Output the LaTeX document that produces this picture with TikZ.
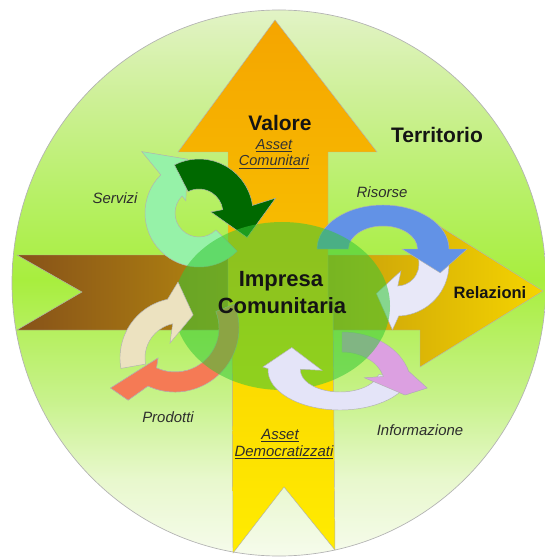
\documentclass[tikz,border=0pt]{standalone}
\usepackage{fontspec}
\setmainfont{Liberation Sans}
\definecolor{bgA}{RGB}{226,243,198}
\definecolor{bgB}{RGB}{205,240,150}
\definecolor{bgC}{RGB}{182,240,100}
\definecolor{bgD}{RGB}{168,238,62}
\definecolor{bgE}{RGB}{200,242,140}
\definecolor{bgF}{RGB}{232,248,205}
\definecolor{bgG}{RGB}{246,251,236}
\definecolor{hL}{RGB}{135,82,25}
\definecolor{hR}{RGB}{245,212,0}
\definecolor{vT}{RGB}{245,165,0}
\definecolor{vM}{RGB}{248,196,0}
\definecolor{yT}{RGB}{250,212,0}
\definecolor{yB}{RGB}{255,236,0}
\definecolor{ellG}{RGB}{55,200,55}
\definecolor{lgC}{RGB}{150,242,168}
\definecolor{dgC}{RGB}{0,105,0}
\definecolor{blC}{RGB}{98,146,230}
\definecolor{wtC}{RGB}{232,232,248}
\definecolor{beC}{RGB}{236,226,192}
\definecolor{rdC}{RGB}{245,122,85}
\definecolor{pkC}{RGB}{220,160,225}
\definecolor{lvC}{RGB}{228,228,248}
\definecolor{txC}{RGB}{20,20,20}
\definecolor{itC}{RGB}{45,45,45}
\pgfdeclareverticalshading{bgshade}{100bp}{color(0bp)=(bgG); color(25bp)=(bgG); color(32bp)=(bgF); color(39.3bp)=(bgE); color(50.3bp)=(bgD); color(57.6bp)=(bgC); color(66.8bp)=(bgB); color(75bp)=(bgA); color(100bp)=(bgA)}
% #1 style, #2 start angle, #3 end angle, #4 inner r, #5 outer r, #6 inner barb, #7 tip, #8 outer barb
\newcommand{\arcarrow}[8]{%
  \filldraw[#1] (#2:#4) arc[start angle=#2, end angle=#3, radius=#4] -- #6 -- #7 -- #8 -- (#3:#5) arc[start angle=#3, end angle=#2, radius=#5] -- cycle;}
\begin{document}
\begin{tikzpicture}[x=0.75pt,y=-0.75pt,
  arrline/.style={draw=black!30, line width=0.35pt},
  bigtxt/.style={font=\bfseries\fontsize{15.75}{18}\selectfont, text=txC, inner sep=0pt},
  midtxt/.style={font=\bfseries\fontsize{16.5}{19}\selectfont, text=txC, inner sep=0pt},
  reltxt/.style={font=\bfseries\fontsize{12.4}{14}\selectfont, text=txC, inner sep=0pt},
  itxt/.style={font=\itshape\fontsize{11.2}{13}\selectfont, text=itC, inner sep=0pt},
  ultxt/.style={font=\itshape\fontsize{10.9}{13}\selectfont, text=black!80, inner sep=0pt}]
\useasboundingbox (0,0) rectangle (544,559);
\fill[white] (0,0) rectangle (544,559);
% background disc
\shade[shading=bgshade] (279,283) ellipse [x radius=267, y radius=273];
\draw[black!30, line width=0.5pt] (279,283) ellipse [x radius=267, y radius=273];
% horizontal arrow
\shade[left color=hL, right color=hR] (17,255) -- (420,255) -- (420,214) -- (543,291) -- (420,367) -- (420,330) -- (17,330) -- (82,292) -- cycle;
\draw[arrline] (17,255) -- (420,255) -- (420,214) -- (543,291) -- (420,367) -- (420,330) -- (17,330) -- (82,292) -- cycle;
% vertical arrow: orange upper part and yellow lower part
\shade[top color=vT, bottom color=vM] (275,20) -- (377,152) -- (328,152) -- (328,310) -- (228,310) -- (228,152) -- (178,152) -- cycle;
\shade[top color=yT, bottom color=yB] (232,310) -- (333,310) -- (335,550) -- (284,487) -- (233,553) -- cycle;
\draw[arrline] (228,310) -- (228,152) -- (178,152) -- (275,20) -- (377,152) -- (328,152) -- (328,310);
\draw[arrline] (232,310) -- (233,553) -- (284,487) -- (335,550) -- (333,310);
% Servizi cycle
\begin{scope}[shift={(199,213)}]
  \arcarrow{arrline, fill=lgC}{45}{225}{24}{54}{(223:18)}{(258:55)}{(227:84)}
  \arcarrow{arrline, fill=dgC}{243}{352}{24}{54}{(355:12)}{(27:54)}{(349:78)}
\end{scope}
% Risorse cycle
\begin{scope}[shift={(397,264)}]
  \arcarrow{arrline, fill=wtC}{-15}{88}{22}{52}{(60:8)}{(125:36)}{(94:66)}
\end{scope}
\begin{scope}[shift={(383,249)}, xscale=1.5]
  \arcarrow{arrline, fill=blC}{180}{360}{23}{44}{(360:12.7)}{(32:45)}{(360:56)}
\end{scope}
% Prodotti red (under the ellipse)
\begin{scope}[shift={(175,328)}]
  \arcarrow{arrline, fill=rdC}{-22}{115}{44}{64}{(119.5:34.5)}{(137:88)}{(123:86)}
\end{scope}
% Informazione pink (under the ellipse)
\begin{scope}[shift={(342,385)}, xscale=1.3]
  \arcarrow{arrline, fill=pkC}{270}{345}{33}{53}{(338:19)}{(11.6:49.5)}{(2.6:65.5)}
\end{scope}
% central ellipse
\fill[ellG, opacity=0.55] (282,306) ellipse [x radius=108, y radius=84];
% arrows above the ellipse
\begin{scope}[shift={(180,358)}]
  \arcarrow{arrline, fill=beC}{170}{258}{35}{60}{(236:18)}{(287:45)}{(268.5:76)}
\end{scope}
\begin{scope}
  \clip (95,345) rectangle (186,415);
  \begin{scope}[shift={(175,328)}]
    \arcarrow{arrline, fill=rdC}{-22}{115}{44}{64}{(119.5:34.5)}{(137:88)}{(123:86)}
  \end{scope}
\end{scope}
\begin{scope}[shift={(340,370)}, xscale=1.8]
  \arcarrow{arrline, fill=lvC}{12}{182}{22}{40}{(178:10)}{(220:35)}{(184:43)}
\end{scope}
\begin{scope}
  \clip (358,367) rectangle (440,410);
  \begin{scope}[shift={(342,385)}, xscale=1.3]
    \arcarrow{arrline, fill=pkC}{270}{345}{33}{53}{(338:19)}{(11.6:49.5)}{(2.6:65.5)}
  \end{scope}
\end{scope}
% texts
\node[bigtxt] (valore) at (280,123) {Valore};
\node[ultxt] (asset1) at (274,146) {\underline{Asset}};
\node[ultxt] (comunitari) at (274,162) {\underline{Comunitari}};
\node[bigtxt] (territorio) at (437,135) {Territorio};
\node[midtxt] (impresa) at (281,281) {Impresa};
\node[midtxt] (comunitaria) at (282,306) {Comunitaria};
\node[reltxt] (relazioni) at (490,293) {Relazioni};
\node[itxt] (servizi) at (115,198) {Servizi};
\node[itxt] (risorse) at (382,192) {Risorse};
\node[itxt] (prodotti) at (168,417) {Prodotti};
\node[itxt] (informazione) at (420,430) {Informazione};
\node[itxt] (asset2) at (280,436) {\underline{Asset}};
\node[itxt] (democratizzati) at (284,452) {\underline{Democratizzati}};
\end{tikzpicture}
\end{document}
